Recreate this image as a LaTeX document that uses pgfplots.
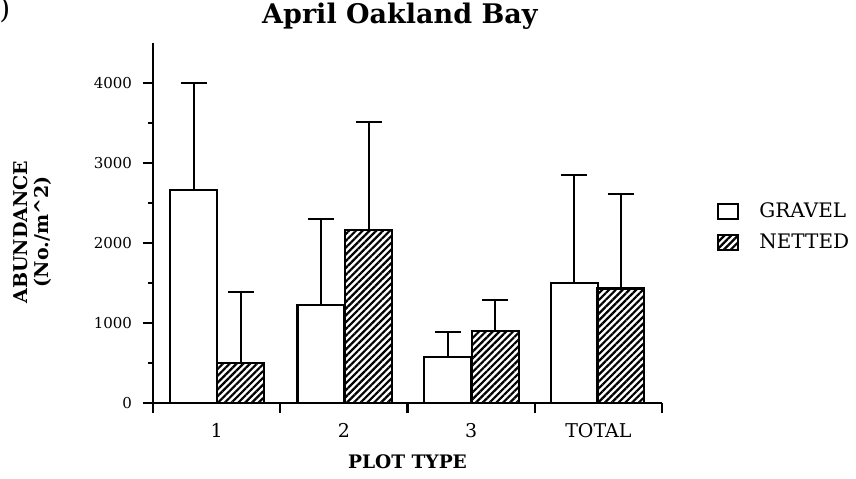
\documentclass[border=0pt]{standalone}
\usepackage{fontspec}
\setmainfont{DejaVu Serif}
\usepackage{pgfplots}
\usepackage{pgfplotstable}
\pgfplotsset{compat=1.18}
\usetikzlibrary{patterns.meta}

% x = bar centre, y = mean, err = upper error
\pgfplotstableread{
x     y    err
0.32  2660 1340
1.32  1222 1075
2.315 576  315
3.31  1500 1345
}\gravel
\pgfplotstableread{
x     y    err
0.69  500  885
1.695 2160 1350
2.69  902  390
3.675 1432 1185
}\netted

\begin{document}
\begin{tikzpicture}
\begin{axis}[
  at={(0,0)}, anchor=south west,
  scale only axis, width=254.5pt, height=180pt,
  xmin=0, xmax=4, ymin=0, ymax=4500,
  axis lines*=left,
  axis line style={line width=1.2pt, -},
  xtick={0,1,2,3,4}, xticklabels={},
  extra x ticks={0.5,1.5,2.5,3.5},
  extra x tick labels={1,2,3,TOTAL},
  extra x tick style={major tick length=0pt},
  ytick={0,1000,2000,3000,4000},
  minor ytick={500,1500,2500,3500},
  tick align=outside,
  major tick length=5pt, minor tick length=2.5pt,
  tick style={line width=1.2pt, black},
  /pgf/number format/assume math mode=true,
  /pgf/number format/set thousands separator={},
  yticklabel style={font=\fontsize{7.5}{9}\selectfont, xshift=-2pt},
  xticklabel style={font=\fontsize{9.5}{11}\selectfont, yshift=-6.5pt},
  title={April Oakland Bay},
  title style={font=\bfseries\fontsize{13.5}{15}\selectfont, at={(axis description cs:0.485,1.04)}, anchor=center},
  xlabel={PLOT TYPE},
  xlabel style={font=\bfseries\fontsize{9.3}{11}\selectfont, at={(axis description cs:0.5,0)}, yshift=-29.5pt, anchor=center},
  ylabel={ABUNDANCE\\(No./m\^{}2)},
  ylabel style={font=\bfseries\fontsize{9.5}{10.5}\selectfont, align=center, at={(axis description cs:-0.237,0.475)}, anchor=center},
  legend style={at={(axis description cs:1.108,0.489)}, anchor=west, draw=none, fill=none,
    font=\fontsize{10}{12}\selectfont, row sep=3pt, inner sep=0pt,
    /tikz/every odd column/.append style={column sep=8pt}},
  legend cell align=left,
  legend image code/.code={\draw[#1, line width=1pt] (0pt,-3.75pt) rectangle (10pt,3.75pt);},
]
\addplot[ybar, bar width=0.37, bar shift=0, fill=white, draw=black, line width=1.1pt,
  error bars/.cd, y dir=plus, y explicit,
  error bar style={line width=1pt, black},
  error mark options={rotate=90, mark size=6.5pt, line width=1pt, black}]
  table[x=x, y=y, y error=err] {\gravel};
\addplot[ybar, bar width=0.37, bar shift=0, draw=black, line width=1.1pt,
  pattern={Lines[angle=45, distance=2.4pt, line width=1.1pt]},
  error bars/.cd, y dir=plus, y explicit,
  error bar style={line width=1pt, black},
  error mark options={rotate=90, mark size=6.5pt, line width=1pt, black}]
  table[x=x, y=y, y error=err] {\netted};
\legend{GRAVEL, NETTED}
\end{axis}
\node[font=\fontsize{14}{16}\selectfont, anchor=north west, inner sep=0pt] at (-77pt,203pt) {)};
\pgfresetboundingbox
\path (-76.5pt,-37.5pt) rectangle (351.5pt,201.5pt);
\end{tikzpicture}
\end{document}
